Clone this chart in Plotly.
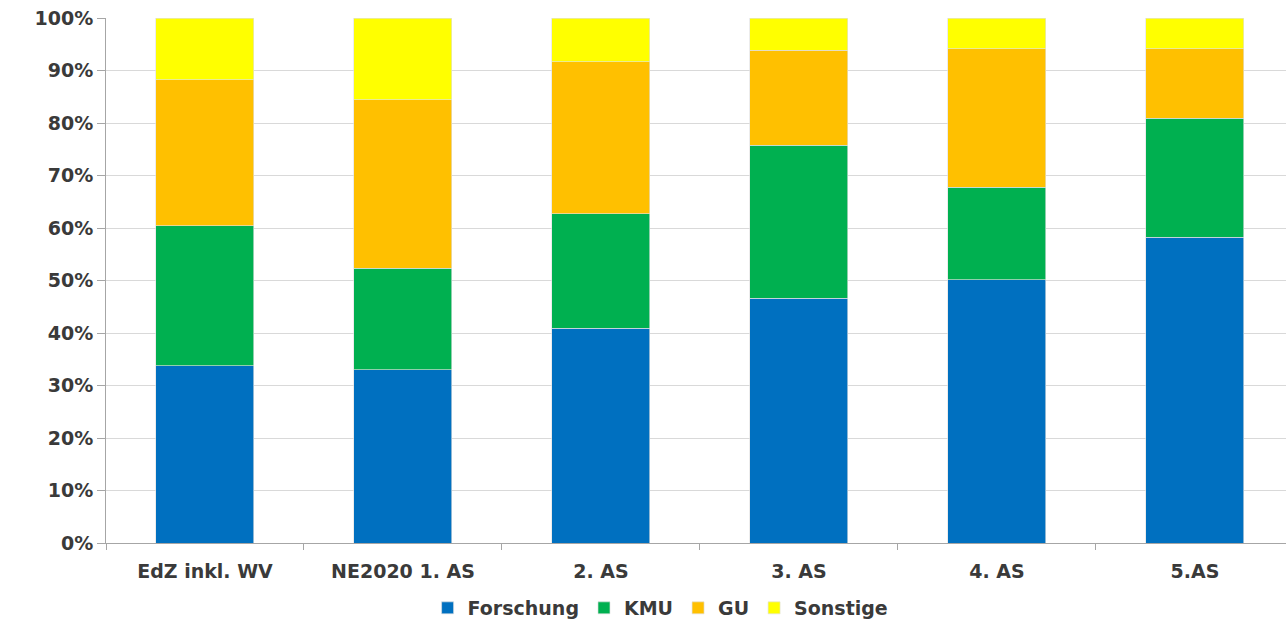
import plotly.graph_objects as go

categories = ["EdZ inkl. WV", "NE2020 1. AS", "2. AS", "3. AS", "4. AS", "5.AS"]
forschung = [33.8, 33.0, 40.9, 46.6, 50.1, 58.2]
kmu = [26.6, 19.3, 21.8, 29.2, 17.7, 22.7]
gu = [27.8, 32.1, 29.0, 18.1, 26.3, 13.2]
sonstige = [11.8, 15.6, 8.3, 6.1, 5.9, 5.9]
y_ticks = list(range(0, 101, 10))
y_tick_labels = [f"{v}%" for v in y_ticks]

series = [
    ("Forschung", forschung, "#0070C0"),
    ("KMU", kmu, "#00B050"),
    ("GU", gu, "#FFC000"),
    ("Sonstige", sonstige, "#FFFF00"),
]

fig = go.Figure()
for name, vals, color in series:
    fig.add_trace(go.Bar(
        x=categories, y=vals, name=name,
        marker=dict(color=color, line=dict(color="rgba(225,225,225,0.8)", width=0.8)),
    ))

font_family = "DejaVu Sans, sans-serif"
text_color = "#3a3a3a"
fs = 19
fig.update_layout(
    barmode="stack",
    bargap=0.505,
    width=1286, height=619,
    margin=dict(l=106, r=0, t=18, b=76, autoexpand=False),
    paper_bgcolor="white", plot_bgcolor="white",
    font=dict(family=font_family, size=fs, color=text_color, weight="bold"),
    showlegend=True,
    legend=dict(
        orientation="h", x=0.47, xanchor="center",
        yref="container", y=1 - 608 / 619, yanchor="middle",
        font=dict(size=fs, color=text_color, weight="bold"), itemwidth=30,
        traceorder="normal", bgcolor="rgba(0,0,0,0)",
    ),
    xaxis=dict(
        range=[-0.5, 5.46], showline=True, linecolor="#A6A6A6", linewidth=1,
        ticks="outside", tickson="boundaries", ticklen=6, tickcolor="#A6A6A6",
        showgrid=False, tickfont=dict(size=fs, color=text_color, weight="bold"),
        ticklabelstandoff=11,
    ),
    yaxis=dict(
        range=[0, 100], tickmode="array", tickvals=y_ticks, ticktext=y_tick_labels,
        showline=True, linecolor="#A6A6A6", linewidth=1,
        ticks="outside", ticklen=8, tickcolor="#A6A6A6",
        showgrid=True, gridcolor="#D9D9D9", gridwidth=1,
        tickfont=dict(size=fs, color=text_color, weight="bold"), zeroline=False,
        ticklabeloverflow="allow",
    ),
)

fig.write_html(
    "out.html",
    config={"displayModeBar": False},
    post_script="document.body.style.margin='0';",
)
